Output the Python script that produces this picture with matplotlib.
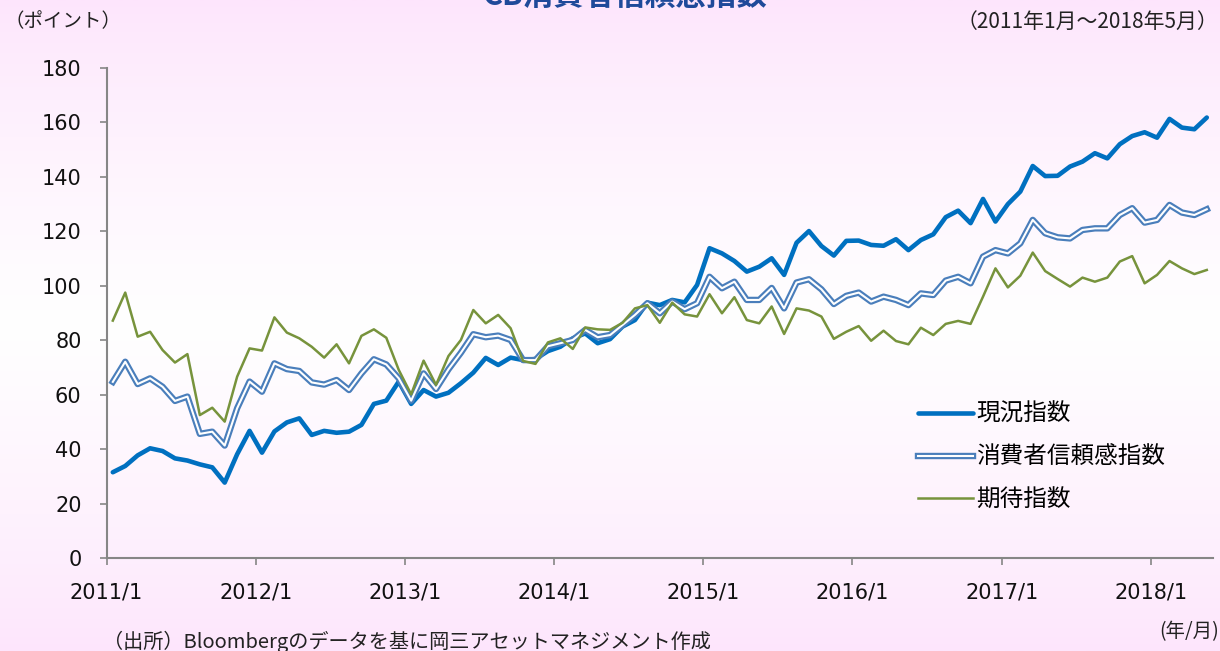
import numpy as np
import matplotlib
matplotlib.use("Agg")
import matplotlib.pyplot as plt
from matplotlib.legend_handler import HandlerTuple

plt.rcParams['font.family'] = ['DejaVu Sans', 'Noto Sans CJK JP']

# ---- data (2011/1 - 2018/5, monthly) ----
current = [31.5, 33.8, 37.7, 40.3, 39.3, 36.6, 35.8, 34.4, 33.3, 27.7, 38.1, 46.7,
           38.7, 46.5, 49.8, 51.3, 45.2, 46.7, 46.0, 46.4, 48.9, 56.6, 57.8, 64.8,
           56.6, 61.7, 59.3, 60.7, 64.2, 68.1, 73.5, 70.9, 73.6, 72.7, 73.1, 76.0,
           77.6, 80.7, 82.5, 78.9, 80.4, 85.0, 87.4, 93.8, 92.9, 94.8, 93.9, 100.3,
           113.8, 111.9, 109.1, 105.2, 107.0, 110.1, 104.0, 115.8, 120.1, 114.6, 111.1, 116.5,
           116.6, 115.0, 114.7, 117.1, 113.1, 116.8, 118.9, 125.2, 127.6, 123.0, 131.9, 123.6,
           130.0, 134.6, 144.0, 140.3, 140.4, 143.8, 145.6, 148.7, 146.8, 152.0, 155.0, 156.4,
           154.4, 161.3, 158.1, 157.5, 161.8]
confidence = [64.7, 72.1, 63.9, 66.0, 62.9, 57.7, 59.3, 45.6, 46.4, 41.3, 55.0, 64.8,
              61.1, 71.5, 69.4, 68.7, 64.5, 63.7, 65.4, 61.7, 67.8, 73.0, 71.1, 66.0,
              57.8, 67.8, 62.1, 69.3, 75.4, 82.2, 81.1, 81.7, 80.1, 72.7, 72.7, 77.8,
              78.9, 80.1, 83.8, 81.1, 81.9, 85.6, 89.3, 93.6, 89.9, 94.2, 91.4, 93.6,
              103.3, 99.1, 101.5, 94.8, 94.8, 99.2, 91.7, 101.2, 102.4, 98.7, 93.3, 96.3,
              97.5, 94.2, 96.0, 94.8, 92.9, 97.2, 96.6, 101.9, 103.3, 100.9, 110.7, 113.1,
              111.9, 115.6, 124.2, 119.3, 117.8, 117.4, 120.5, 121.1, 121.1, 126.0, 128.5, 123.2,
              124.2, 129.7, 126.9, 126.0, 128.1]
expectations = [87.2, 97.5, 81.3, 83.1, 76.4, 71.8, 74.9, 52.5, 55.2, 50.1, 66.6, 77.0,
                76.2, 88.4, 82.8, 80.7, 77.6, 73.6, 78.5, 71.5, 81.6, 84.0, 80.9, 69.1,
                60.1, 72.5, 63.6, 74.2, 80.1, 91.1, 86.2, 89.3, 84.4, 72.4, 71.3, 79.2,
                80.7, 76.8, 84.7, 84.0, 83.8, 86.4, 91.7, 92.9, 86.4, 93.8, 89.5, 88.7,
                96.9, 89.9, 95.8, 87.4, 86.2, 92.4, 82.3, 91.7, 90.9, 88.7, 80.5, 83.1,
                85.2, 79.8, 83.5, 79.7, 78.5, 84.6, 81.9, 86.0, 87.1, 86.0, 96.0, 106.4,
                99.4, 103.7, 112.2, 105.4, 102.5, 99.7, 103.0, 101.5, 103.0, 108.9, 110.9, 100.9,
                104.0, 109.1, 106.4, 104.3, 105.8]
tick_labels = ['2011/1', '2012/1', '2013/1', '2014/1', '2015/1', '2016/1', '2017/1', '2018/1']
y_ticks = [0, 20, 40, 60, 80, 100, 120, 140, 160, 180]
series_names = ['現況指数', '消費者信頼感指数', '期待指数']

# ---- figure ----
fig = plt.figure(figsize=(12.2, 6.51), dpi=100)

# gradient background
bg = fig.add_axes([0, 0, 1, 1], zorder=-10)
t = np.linspace(0, 1, 300)
pink = np.array([253, 229, 252]) / 255.0
white = np.array([255, 255, 255]) / 255.0
w = np.clip(1 - np.abs(t - 0.5) / 0.5, 0, 1) ** 0.8
grad = pink[None, :] * (1 - w[:, None]) + white[None, :] * w[:, None]
bg.imshow(grad[:, None, :], aspect='auto', extent=[0, 1, 0, 1])
bg.set_axis_off()

ax = fig.add_axes([106.6 / 1220, 93 / 651, (1213 - 106.6) / 1220, 490 / 651])
ax.patch.set_alpha(0)

x = np.arange(len(current))
l1, = ax.plot(x, current, color='#0070C0', lw=3.3, solid_joinstyle='round',
              solid_capstyle='round', zorder=3)
l2a, = ax.plot(x, confidence, color='#4A7EBB', lw=4.6, solid_joinstyle='round', zorder=4)
l2b, = ax.plot(x, confidence, color='white', lw=1.5, solid_joinstyle='round', zorder=4.1)
l3, = ax.plot(x, expectations, color='#77933C', lw=1.8, solid_joinstyle='round', zorder=5)

ax.set_xlim(-0.5, len(current) - 0.5)
ax.set_ylim(0, 180)
ax.set_yticks(y_ticks)
ax.set_xticks(np.arange(len(tick_labels)) * 12 - 0.5)
ax.set_xticklabels(tick_labels)
for s in ['top', 'right']:
    ax.spines[s].set_visible(False)
for s in ['left', 'bottom']:
    ax.spines[s].set_color('#868686')
    ax.spines[s].set_linewidth(1.5)
ax.tick_params(axis='both', direction='out', length=5, width=1.2, color='#868686',
               labelsize=15, pad=13, labelcolor='#111111')

leg = ax.legend([l1, (l2a, l2b), l3], series_names,
                handler_map={tuple: HandlerTuple(ndivide=1)},
                loc='upper left', bbox_to_anchor=(918 / 1220, 1 - 403 / 651),
                bbox_transform=fig.transFigure, frameon=False,
                prop={'family': ['Noto Sans CJK JP'], 'size': 17},
                handlelength=2.35, handletextpad=0.12, labelspacing=0.84,
                borderpad=0, borderaxespad=0)

# texts
fig.text(625 / 1220, 1.0 + 4 / 651, 'CB消費者信頼感指数', ha='center', va='center',
         fontsize=22, fontweight='bold', color='#1F4A9A', family=['Noto Sans CJK JP'])
fig.text(4 / 1220, 1 - 22 / 651, '（ポイント）', ha='left', va='center', fontsize=14,
         family=['Noto Sans CJK JP'], color='#222222')
fig.text(1218 / 1220, 1 - 22 / 651, '（2011年1月～2018年5月）', ha='right', va='center',
         fontsize=15, family=['Noto Sans CJK JP'], color='#222222')
fig.text(1219 / 1220, 1 - 632 / 651, '(年/月)', ha='right', va='center', fontsize=14,
         family=['Noto Sans CJK JP'], color='#222222')
fig.text(103 / 1220, 1 - 642 / 651, '（出所）Bloombergのデータを基に岡三アセットマネジメント作成',
         ha='left', va='center', fontsize=14.5, family=['Noto Sans CJK JP'], color='#222222')

fig.savefig('out.png', dpi=100)
